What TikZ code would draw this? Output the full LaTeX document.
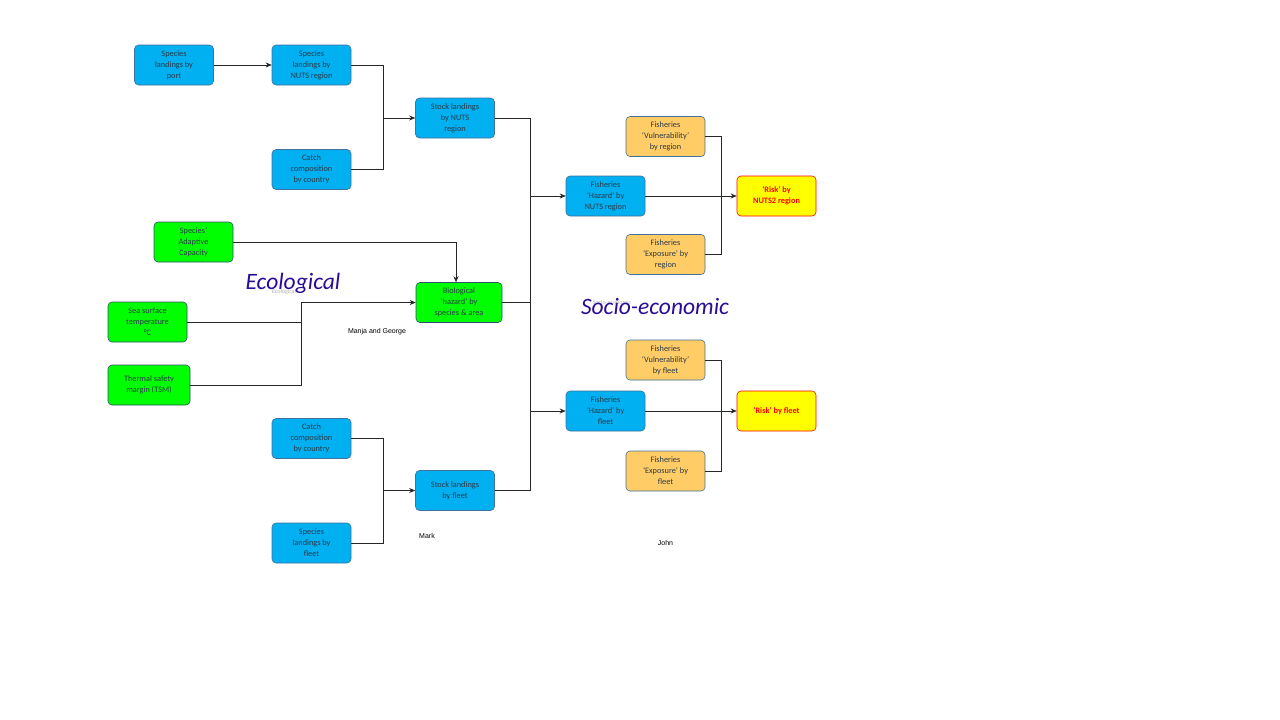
\documentclass[tikz,border=0pt]{standalone}
\usepackage{fontspec}
\setmainfont{Carlito}
\newfontfamily\labfont{Liberation Sans}
\usetikzlibrary{arrows.meta}
\definecolor{bbl}{HTML}{00B0F0}
\definecolor{bgr}{HTML}{00FF00}
\definecolor{bor}{HTML}{FFCC66}
\definecolor{byl}{HTML}{FFFF00}
\definecolor{edg}{HTML}{41719C}
\definecolor{ttl}{HTML}{2A0C96}
\definecolor{txt}{HTML}{2B3A4A}
\tikzset{
  box/.style={draw=edg, line width=0.6pt, rounded corners=4pt, minimum width=79pt, minimum height=40pt, inner sep=1pt, align=center, font=\fontsize{8.3}{11}\selectfont, text=txt},
  bluebox/.style={box, fill=bbl},
  greenbox/.style={box, fill=bgr, draw=edg!70!black},
  orangebox/.style={box, fill=bor},
  riskbox/.style={box, fill=byl, draw=red, text=red, font=\bfseries\fontsize{8.3}{11}\selectfont},
  conn/.style={draw=black!85, line width=0.7pt},
  arr/.style={conn, -{Stealth[length=6pt,width=5pt]}},
  title/.style={font=\itshape\fontsize{23.5}{26}\selectfont, text=ttl},
  ghost/.style={font=\fontsize{6}{7}\selectfont, text=black!30},
  lab/.style={font=\labfont\fontsize{7}{8}\selectfont, text=black}
}
\begin{document}
\begin{tikzpicture}[x=1pt,y=-1pt]
\useasboundingbox (0,0) rectangle (1280,720);
% nodes
\node[bluebox] (spport) at (174,65) {Species\\landings by\\port};
\node[bluebox] (spnuts) at (311.5,65) {Species\\landings by\\NUTS region};
\node[bluebox] (catch1) at (311.5,169.5) {Catch\\composition\\by country};
\node[bluebox] (stnuts) at (455,118) {Stock landings\\by NUTS\\region};
\node[greenbox] (adapt) at (193.5,242) {Species'\\Adaptive\\Capacity};
\node[greenbox, minimum width=86pt] (bio) at (459,302.5) {Biological\\`hazard' by\\species \& area};
\node[greenbox] (sst) at (147.5,322) {Sea surface\\temperature\\\textdegree C};
\node[greenbox, minimum width=82pt] (tsm) at (149,385) {Thermal safety\\margin (TSM)};
\node[bluebox] (catch2) at (311.5,438.5) {Catch\\composition\\by country};
\node[bluebox] (stfleet) at (455,490.5) {Stock landings\\by fleet};
\node[bluebox] (spfleet) at (311.5,543) {Species\\landings by\\fleet};
\node[bluebox] (haznuts) at (605.5,196) {Fisheries\\`Hazard' by\\NUTS region};
\node[orangebox] (vulnreg) at (665.5,136.5) {Fisheries\\`Vulnerability'\\by region};
\node[orangebox] (expreg) at (665.5,254.5) {Fisheries\\`Exposure' by\\region};
\node[riskbox] (risknuts) at (776.5,196) {`Risk' by\\NUTS2 region};
\node[orangebox] (vulnfl) at (665.5,360) {Fisheries\\`Vulnerability'\\by fleet};
\node[bluebox] (hazfl) at (605.5,411) {Fisheries\\`Hazard' by\\fleet};
\node[orangebox] (expfl) at (665.5,471) {Fisheries\\`Exposure' by\\fleet};
\node[riskbox] (riskfl) at (776.5,411) {`Risk' by fleet};
% junction coordinates
\coordinate (j1) at (383,118);
\coordinate (j2) at (383,490.5);
\coordinate (jbus1) at (530,196);
\coordinate (jbus2) at (530,411);
\coordinate (jsst) at (301,302.5);
\coordinate (jr1) at (721,196);
\coordinate (jr2) at (721,411);
\coordinate (jad) at (456,242);
% titles and labels
\node[ghost] (g1) at (284,292) {Ecological};
\node[title] (ecol) at (293,283) {Ecological};
\node[ghost] (g2) at (612,302) {Socio-economic};
\node[title] (socio) at (655,306) {Socio-economic};
\node[lab] (manja) at (377,332) {Manja and George};
\node[lab] (mark) at (427,536) {Mark};
\node[lab] (john) at (665.5,543) {John};
% connectors
\draw[arr] (spport) -- (spnuts);
\draw[conn] (spnuts.east) -| (j1);
\draw[conn] (catch1.east) -| (j1);
\draw[arr] (j1) -- (stnuts);
\draw[conn] (stnuts.east) -| (jbus1);
\draw[conn] (jbus1) -- (jbus2);
\draw[conn] (stfleet.east) -| (jbus2);
\draw[conn] (bio.east) -- (530,302.5);
\draw[arr] (jbus1) -- (haznuts);
\draw[arr] (jbus2) -- (hazfl);
\draw[conn] (adapt.east) -- (jad);
\draw[arr] (jad) -- (jad |- bio.north);
\draw[conn] (sst.east) -| (jsst);
\draw[conn] (tsm.east) -| (jsst);
\draw[arr] (jsst) -- (bio);
\draw[conn] (catch2.east) -| (j2);
\draw[conn] (spfleet.east) -| (j2);
\draw[arr] (j2) -- (stfleet);
\draw[conn] (vulnreg.east) -| (jr1);
\draw[conn] (expreg.east) -| (jr1);
\draw[arr] (haznuts) -- (risknuts);
\draw[conn] (vulnfl.east) -| (jr2);
\draw[conn] (expfl.east) -| (jr2);
\draw[arr] (hazfl) -- (riskfl);
\end{tikzpicture}
\end{document}
